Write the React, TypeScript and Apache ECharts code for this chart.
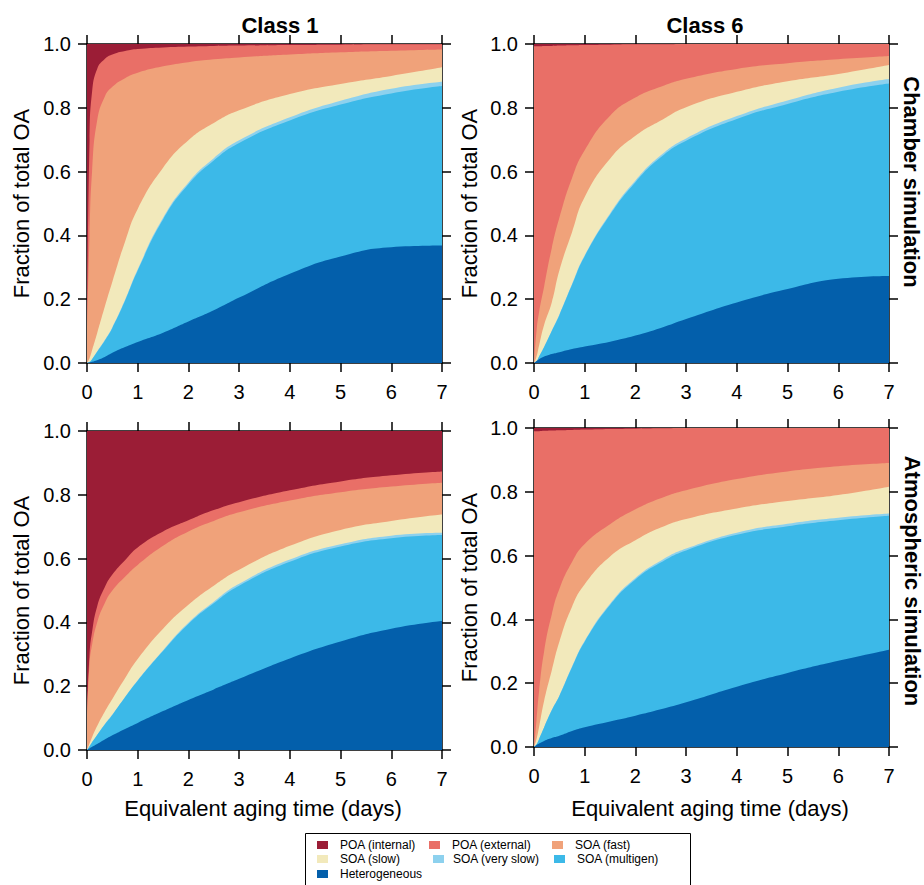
import React, { useEffect, useRef } from "react";
import * as echarts from "echarts";

// x positions (equivalent aging time, days)
const xs = [0, 0.05, 0.1, 0.2, 0.35, 0.5, 0.75, 1, 1.5, 2, 2.5, 3, 4, 5, 6, 7];

const names = [
  "POA (internal)",
  "POA (external)",
  "SOA (fast)",
  "SOA (slow)",
  "SOA (very slow)",
  "SOA (multigen)",
  "Heterogeneous",
];
const colors = ["#9B1D36", "#E96F67", "#F0A27A", "#F2E9BB", "#8DD1EE", "#3CB9E8", "#035FAB"];

// Cumulative upper boundary of each layer (fraction of total OA)
// Panel (a) Class 1, chamber simulation
const aInt = [1, 1, 1, 1, 1, 1, 1, 1, 1, 1, 1, 1, 1, 1, 1, 1];
const aExt = [0.1, 0.7, 0.85, 0.922, 0.953, 0.967, 0.978, 0.984, 0.989, 0.992, 0.994, 0.995, 0.997, 0.998, 0.999, 0.999];
const aFast = [0.1, 0.4, 0.6, 0.76, 0.835, 0.866, 0.893, 0.91, 0.93, 0.943, 0.952, 0.958, 0.967, 0.974, 0.979, 0.983];
const aSlow = [0, 0.015, 0.04, 0.093, 0.176, 0.255, 0.38, 0.483, 0.612, 0.698, 0.752, 0.792, 0.843, 0.875, 0.9, 0.927];
const aVslow = [0, 0.003, 0.012, 0.036, 0.072, 0.112, 0.198, 0.294, 0.455, 0.566, 0.642, 0.698, 0.77, 0.822, 0.86, 0.882];
const aMulti = [0, 0.003, 0.012, 0.035, 0.07, 0.11, 0.195, 0.29, 0.45, 0.56, 0.635, 0.69, 0.76, 0.81, 0.845, 0.868];
const aHet = [0, 0.002, 0.004, 0.009, 0.019, 0.032, 0.05, 0.066, 0.095, 0.13, 0.165, 0.205, 0.28, 0.334, 0.363, 0.368];

// Panel (b) Class 6, chamber simulation
const bInt = [1, 1, 1, 1, 1, 1, 1, 1, 1, 1, 1, 1, 1, 1, 1, 1];
const bExt = [0.993, 0.993, 0.993, 0.994, 0.994, 0.995, 0.996, 0.997, 0.998, 0.999, 0.999, 1, 1, 1, 1, 1];
const bFast = [0, 0.1, 0.16, 0.24, 0.36, 0.455, 0.58, 0.667, 0.775, 0.832, 0.866, 0.891, 0.922, 0.94, 0.952, 0.962];
const bSlow = [0, 0.02, 0.055, 0.12, 0.19, 0.29, 0.41, 0.52, 0.64, 0.712, 0.76, 0.802, 0.85, 0.883, 0.906, 0.934];
const bVslow = [0, 0.005, 0.02, 0.05, 0.101, 0.152, 0.248, 0.338, 0.469, 0.572, 0.651, 0.704, 0.774, 0.823, 0.863, 0.89];
const bMulti = [0, 0.005, 0.02, 0.05, 0.1, 0.15, 0.245, 0.335, 0.465, 0.567, 0.645, 0.697, 0.765, 0.812, 0.85, 0.876];
const bHet = [0, 0.006, 0.012, 0.02, 0.028, 0.034, 0.044, 0.052, 0.067, 0.086, 0.11, 0.138, 0.19, 0.232, 0.264, 0.273];

// Panel (c) Class 1, atmospheric simulation
const cInt = [1, 1, 1, 1, 1, 1, 1, 1, 1, 1, 1, 1, 1, 1, 1, 1];
const cExt = [0.1, 0.3, 0.37, 0.45, 0.51, 0.55, 0.595, 0.635, 0.685, 0.72, 0.752, 0.777, 0.814, 0.842, 0.861, 0.873];
const cFast = [0.1, 0.27, 0.33, 0.4, 0.46, 0.5, 0.543, 0.58, 0.64, 0.685, 0.718, 0.745, 0.782, 0.808, 0.826, 0.838];
const cSlow = [0, 0.02, 0.04, 0.075, 0.12, 0.16, 0.225, 0.285, 0.38, 0.455, 0.515, 0.565, 0.64, 0.69, 0.718, 0.738];
const cVslow = [0, 0.012, 0.024, 0.047, 0.081, 0.111, 0.166, 0.219, 0.313, 0.399, 0.465, 0.521, 0.597, 0.645, 0.672, 0.681];
const cMulti = [0, 0.012, 0.024, 0.047, 0.08, 0.11, 0.165, 0.217, 0.31, 0.395, 0.46, 0.515, 0.59, 0.638, 0.664, 0.674];
const cHet = [0, 0.005, 0.01, 0.019, 0.033, 0.046, 0.066, 0.085, 0.122, 0.157, 0.19, 0.223, 0.287, 0.34, 0.38, 0.404];

// Panel (d) Class 6, atmospheric simulation
const dInt = [1, 1, 1, 1, 1, 1, 1, 1, 1, 1, 1, 1, 1, 1, 1, 1];
const dExt = [0.99, 0.99, 0.99, 0.991, 0.992, 0.993, 0.994, 0.995, 0.997, 0.998, 0.999, 1, 1, 1, 1, 1];
const dFast = [0, 0.085, 0.175, 0.3, 0.415, 0.495, 0.58, 0.636, 0.698, 0.745, 0.78, 0.805, 0.84, 0.864, 0.88, 0.89];
const dSlow = [0, 0.025, 0.063, 0.145, 0.24, 0.33, 0.44, 0.51, 0.597, 0.648, 0.688, 0.715, 0.748, 0.771, 0.79, 0.816];
const dVslow = [0, 0.008, 0.025, 0.062, 0.116, 0.161, 0.252, 0.333, 0.449, 0.53, 0.584, 0.622, 0.672, 0.7, 0.719, 0.732];
const dMulti = [0, 0.008, 0.025, 0.062, 0.115, 0.16, 0.25, 0.33, 0.445, 0.525, 0.578, 0.616, 0.665, 0.692, 0.711, 0.725];
const dHet = [0, 0.006, 0.011, 0.019, 0.028, 0.035, 0.05, 0.062, 0.08, 0.098, 0.118, 0.14, 0.189, 0.232, 0.27, 0.305];

const xTicks = [0, 1, 2, 3, 4, 5, 6, 7];
const yTicks = [0, 0.2, 0.4, 0.6, 0.8, 1.0];

const FONT = '"Liberation Sans", Arial, Helvetica, sans-serif';

const panels = [
  { grid: { left: 87, top: 44, width: 355, height: 319 }, layers: [aInt, aExt, aFast, aSlow, aVslow, aMulti, aHet], tag: "(a)" },
  { grid: { left: 534, top: 44, width: 355, height: 319 }, layers: [bInt, bExt, bFast, bSlow, bVslow, bMulti, bHet], tag: "(b)" },
  { grid: { left: 87, top: 431, width: 355, height: 319 }, layers: [cInt, cExt, cFast, cSlow, cVslow, cMulti, cHet], tag: "(c)" },
  { grid: { left: 534, top: 428, width: 355, height: 319 }, layers: [dInt, dExt, dFast, dSlow, dVslow, dMulti, dHet], tag: "(d)" },
];

function buildOption() {
  const grid: any[] = [];
  const xAxis: any[] = [];
  const yAxis: any[] = [];
  const series: any[] = [];
  const graphic: any[] = [];
  const line = { color: "#000", width: 1.5 };

  panels.forEach((p, i) => {
    grid.push({ ...p.grid });
    const common = {
      type: "value",
      gridIndex: i,
      splitLine: { show: false },
      axisLine: { show: true, onZero: false, lineStyle: line },
      axisTick: { show: true, inside: false, length: 9, lineStyle: line },
    };
    xAxis.push({
      ...common,
      position: "bottom",
      min: xTicks[0],
      max: xTicks[xTicks.length - 1],
      interval: 1,
      axisLabel: { fontSize: 20, color: "#000", margin: 19, fontFamily: FONT },
    });
    xAxis.push({
      ...common,
      position: "top",
      min: xTicks[0],
      max: xTicks[xTicks.length - 1],
      interval: 1,
      axisLabel: { show: false },
    });
    yAxis.push({
      ...common,
      position: "left",
      min: yTicks[0],
      max: yTicks[yTicks.length - 1],
      interval: 0.2,
      axisLabel: {
        fontSize: 20,
        color: "#000",
        margin: 16,
        fontFamily: FONT,
        formatter: (v: number) => v.toFixed(1),
      },
    });
    yAxis.push({
      ...common,
      position: "right",
      min: yTicks[0],
      max: yTicks[yTicks.length - 1],
      interval: 0.2,
      axisLabel: { show: false },
    });
    p.layers.forEach((vals, k) => {
      series.push({
        type: "line",
        name: names[k],
        xAxisIndex: 2 * i,
        yAxisIndex: 2 * i,
        data: xs.map((x, j) => [x, vals[j]]),
        showSymbol: false,
        symbol: "none",
        smooth: 0.5,
        lineStyle: { width: 0 },
        itemStyle: { color: colors[k] },
        areaStyle: { color: colors[k], opacity: 1 },
        silent: true,
      });
    });
    const g = p.grid;
    graphic.push({
      type: "text",
      x: g.left + g.width - 15,
      y: g.top + g.height - 26,
      style: { text: p.tag, font: `20px ${FONT}`, fill: "#000", align: "right", verticalAlign: "middle" },
    });
  });

  // Column titles
  graphic.push({ type: "text", x: 280, y: 25, style: { text: "Class 1", font: `bold 22px ${FONT}`, fill: "#000", align: "center", verticalAlign: "middle" } });
  graphic.push({ type: "text", x: 705, y: 25, style: { text: "Class 6", font: `bold 22px ${FONT}`, fill: "#000", align: "center", verticalAlign: "middle" } });
  // Row titles
  graphic.push({ type: "text", x: 911, y: 182, rotation: -Math.PI / 2, style: { text: "Chamber simulation", font: `bold 22px ${FONT}`, fill: "#000", align: "center", verticalAlign: "middle" } });
  graphic.push({ type: "text", x: 912, y: 581, rotation: -Math.PI / 2, style: { text: "Atmospheric simulation", font: `bold 22px ${FONT}`, fill: "#000", align: "center", verticalAlign: "middle" } });
  // Y titles
  [[21.5, 203.5], [469, 203.5], [21.5, 590.5], [469, 587.5]].forEach(([x, y]) => {
    graphic.push({ type: "text", x, y, rotation: Math.PI / 2, style: { text: "Fraction of total OA", font: `22px ${FONT}`, fill: "#000", align: "center", verticalAlign: "middle" } });
  });
  // X titles
  [[263, 808], [710, 808]].forEach(([x, y]) => {
    graphic.push({ type: "text", x, y, style: { text: "Equivalent aging time (days)", font: `22px ${FONT}`, fill: "#000", align: "center", verticalAlign: "middle" } });
  });

  // Legend box
  graphic.push({ type: "rect", shape: { x: 305.5, y: 833.5, width: 385, height: 70 }, style: { fill: "#fff", stroke: "#000", lineWidth: 1 } });
  const legendPos = [
    [317, 845, 340],
    [429, 845, 452],
    [552, 845, 575],
    [317, 859, 340],
    [433, 859, 453],
    [554, 859, 577],
    [317, 874, 340],
  ];
  names.forEach((nm, k) => {
    const [sx, sy, tx] = legendPos[k];
    graphic.push({ type: "rect", shape: { x: sx, y: sy - 4, width: 11, height: 8 }, style: { fill: colors[k] } });
    graphic.push({ type: "text", x: tx, y: sy, style: { text: nm, font: `12px ${FONT}`, fill: "#000", align: "left", verticalAlign: "middle" } });
  });

  return {
    animation: false,
    backgroundColor: "#fff",
    grid,
    xAxis,
    yAxis,
    series,
    graphic,
  };
}

export default function App() {
  const ref = useRef<HTMLDivElement | null>(null);
  useEffect(() => {
    if (!ref.current) return;
    const chart = echarts.init(ref.current, null, { renderer: "svg" });
    chart.setOption(buildOption() as any);
    return () => chart.dispose();
  }, []);
  return <div ref={ref} style={{ position: "absolute", left: 0, top: 0, width: 924, height: 885 }} />;
}
